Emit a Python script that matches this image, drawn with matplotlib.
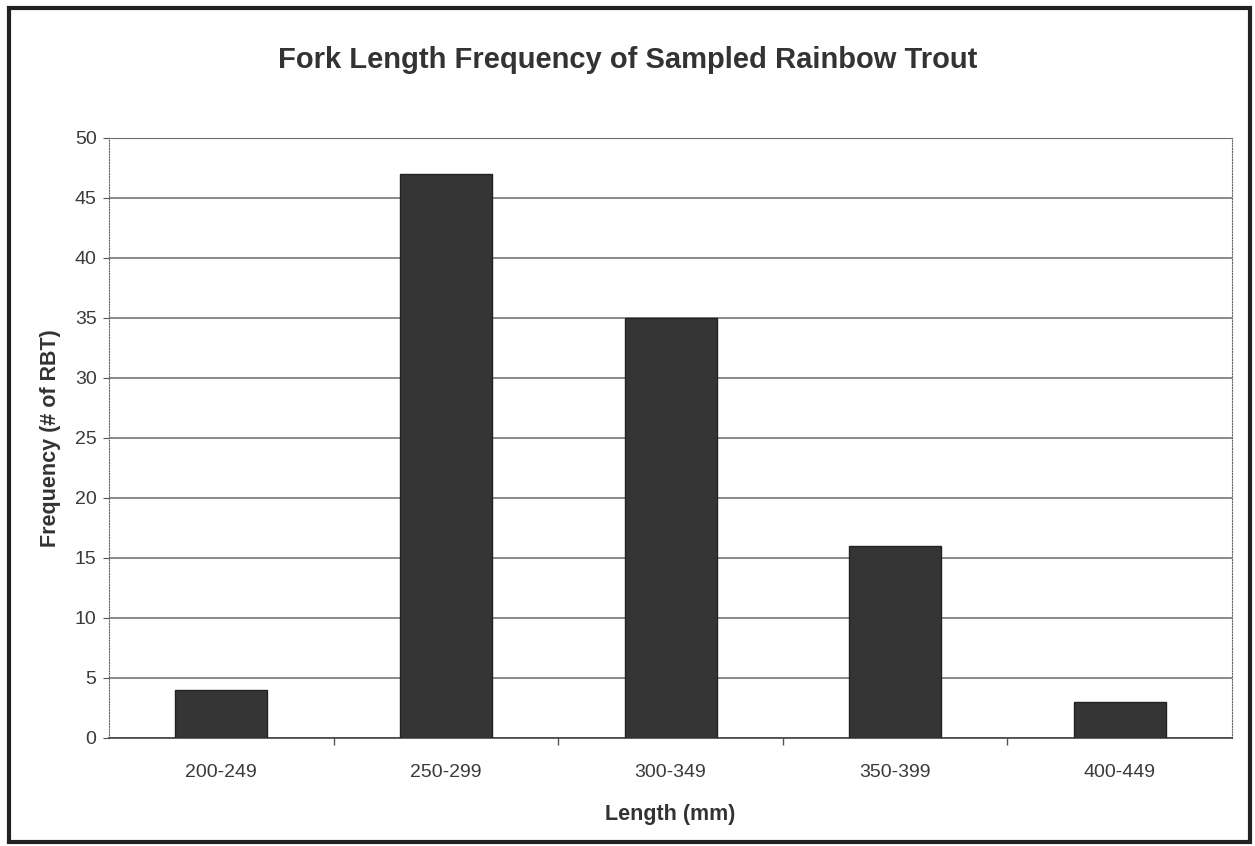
import matplotlib.pyplot as plt
import numpy as np
from matplotlib.patches import Rectangle

plt.rcParams['font.family'] = ['Liberation Sans', 'DejaVu Sans']

# Fork length classes and counts
length_bins = ['200-249', '250-299', '300-349', '350-399', '400-449']
counts = [4, 47, 35, 16, 3]
y_ticks = [0, 5, 10, 15, 20, 25, 30, 35, 40, 45, 50]

fig = plt.figure(figsize=(12.55, 8.46), dpi=100)
ax = fig.add_axes([0.0869, 0.1277, 0.8948, 0.7092])

x = np.arange(len(length_bins))
ax.bar(x, counts, width=0.41, color='#353535', edgecolor='#222222', linewidth=1, zorder=3)

ax.set_xlim(-0.5, len(length_bins) - 0.5)
ax.set_ylim(0, 50)
ax.set_yticks(y_ticks)
ax.yaxis.grid(True, color='#6a6a6a', linewidth=1.1, zorder=0)
ax.set_axisbelow(True)

# category ticks sit between the bars
ax.set_xticks(x)
ax.set_xticklabels(length_bins, fontsize=14, color='#3a3a3a')
ax.set_xticks(np.arange(0.5, len(length_bins) - 0.5), minor=True)
ax.tick_params(axis='x', which='major', length=0, pad=19)
ax.tick_params(axis='x', which='minor', length=5, width=1, color='#555555', direction='out')
ax.tick_params(axis='y', labelsize=14, labelcolor='#3a3a3a', length=4, color='#555555', pad=5)

for side in ['top', 'left', 'right']:
    ax.spines[side].set_linestyle((0, (1, 1.5)))
    ax.spines[side].set_color('#666666')
ax.spines['bottom'].set_color('#444444')
ax.spines['bottom'].set_linewidth(1.2)

ax.set_xlabel('Length (mm)', fontsize=15.5, fontweight='bold', color='#333333', labelpad=16)
ax.set_ylabel('Frequency (# of RBT)', fontsize=15.5, fontweight='bold', color='#333333', labelpad=10)
fig.text(0.5, 0.929, 'Fork Length Frequency of Sampled Rainbow Trout', ha='center', va='center',
         fontsize=21, fontweight='bold', color='#333333')

# outer frame around the whole chart
fig.patches.append(Rectangle((0.0072, 0.0047), 0.9888, 0.9858, transform=fig.transFigure,
                             fill=False, edgecolor='#222222', linewidth=3))

fig.savefig('out.png', dpi=100)
